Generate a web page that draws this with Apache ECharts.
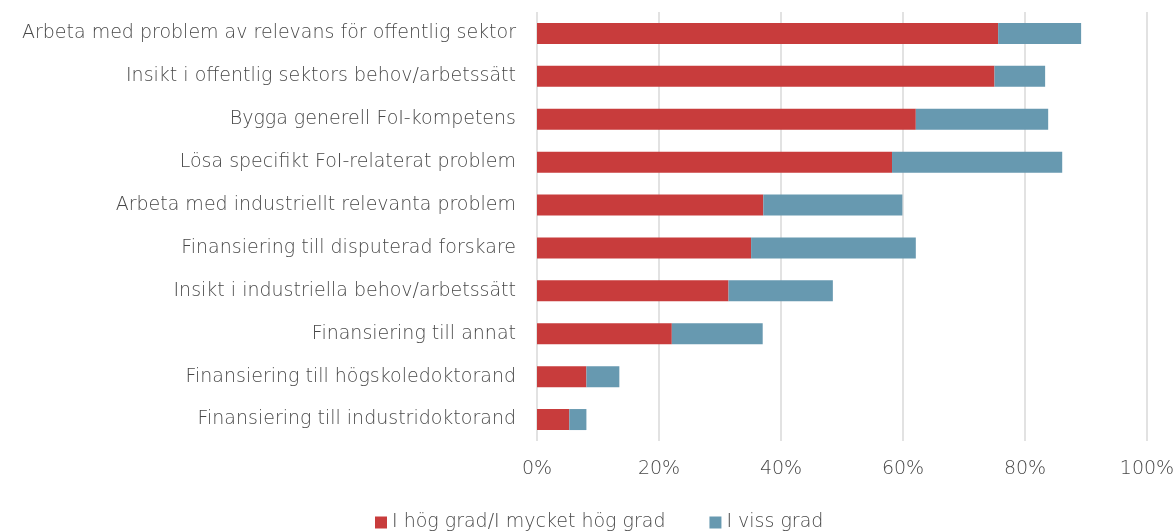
<!DOCTYPE html>
<html>
<head>
<meta charset="utf-8">
<script src="https://cdn.jsdelivr.net/npm/echarts@6/dist/echarts.min.js"></script>
<style>
  html, body { margin: 0; padding: 0; background: #fff; }
  #chart { width: 1174px; height: 532px; }
</style>
</head>
<body>
<div id="chart"></div>
<script>
// kategorier uppifrån och ned
const categories = [
  'Arbeta med problem av relevans för offentlig sektor',
  'Insikt i offentlig sektors behov/arbetssätt',
  'Bygga generell FoI-kompetens',
  'Lösa specifikt FoI-relaterat problem',
  'Arbeta med industriellt relevanta problem',
  'Finansiering till disputerad forskare',
  'Insikt i industriella behov/arbetssätt',
  'Finansiering till annat',
  'Finansiering till högskoledoktorand',
  'Finansiering till industridoktorand',
]
const hogGrad = [75.6, 75.0, 62.1, 58.2, 37.1, 35.1, 31.4, 22.1, 8.1, 5.3]
const vissGrad = [13.6, 8.3, 21.7, 27.9, 22.8, 27.0, 17.1, 14.9, 5.4, 2.8]
const seriesNames = ['I hög grad/I mycket hög grad', 'I viss grad']

const FONT = '"DejaVu Sans", sans-serif'
const TEXT = '#484848'

const chart = echarts.init(document.getElementById('chart'))

const makeSeries = (name, data, color) => ({
  name,
  type: 'bar',
  stack: 'total',
  barWidth: '49%',
  data,
  itemStyle: { color },
  emphasis: { disabled: true },
})

chart.setOption({
  animation: false,
  textStyle: { fontFamily: FONT },
  grid: { left: 537, right: 27, top: 12, bottom: 91, outerBoundsMode: 'none' },
  legend: {
    left: 370,
    top: 508,
    icon: 'rect',
    itemWidth: 12,
    itemHeight: 12,
    itemGap: 44,
    textStyle: { color: TEXT, fontSize: 19, fontWeight: 300, fontFamily: FONT },
    data: seriesNames,
  },
  xAxis: {
    type: 'value',
    min: 0,
    max: 100,
    interval: 20,
    axisLine: { show: false },
    axisTick: { show: false },
    axisLabel: {
      color: TEXT,
      fontSize: 19,
      fontWeight: 300,
      margin: 19,
      formatter: (v) => v + '%',
    },
    splitLine: { lineStyle: { color: '#d9d9d9', width: 1.5 } },
  },
  yAxis: {
    type: 'category',
    inverse: true,
    data: categories,
    axisLine: { show: false },
    axisTick: { show: false },
    axisLabel: { color: TEXT, fontSize: 19, fontWeight: 300, margin: 21 },
  },
  series: [
    makeSeries(seriesNames[0], hogGrad, '#C83C3C'),
    makeSeries(seriesNames[1], vissGrad, '#6799B0'),
  ],
})
</script>
</body>
</html>
